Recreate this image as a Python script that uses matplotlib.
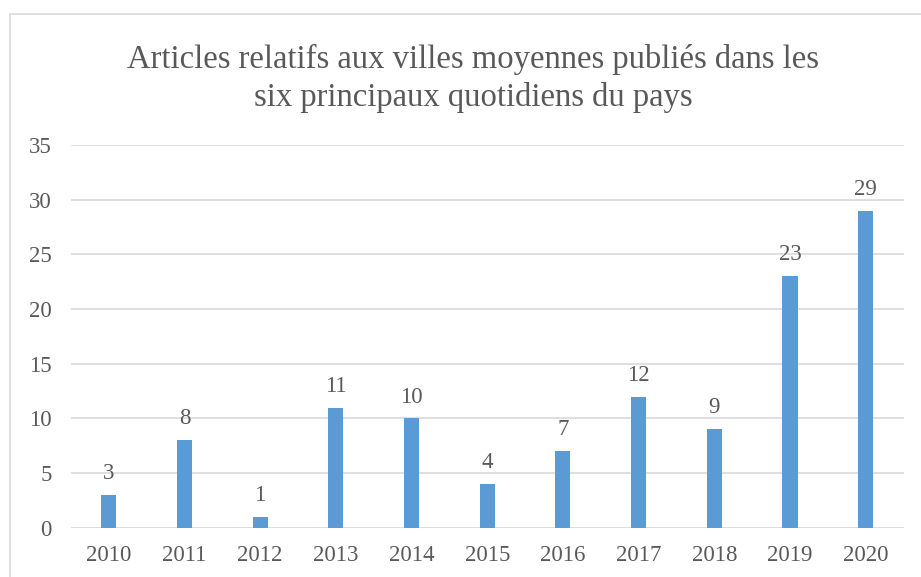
import matplotlib
matplotlib.use("Agg")
from matplotlib import pyplot as plt
from matplotlib.patches import Rectangle

years = ["2010", "2011", "2012", "2013", "2014", "2015", "2016", "2017", "2018", "2019", "2020"]
articles = [3, 8, 1, 11, 10, 4, 7, 12, 9, 23, 29]
yticks = [0, 5, 10, 15, 20, 25, 30, 35]

plt.rcParams['font.family'] = ['Liberation Serif', 'DejaVu Serif']
txt = "#595959"

fig = plt.figure(figsize=(9.21, 5.77), dpi=100)
ax = fig.add_axes([0.077, 0.085, 0.904, 0.664])

x = list(range(len(years)))
bars = ax.bar(x, articles, width=0.2, color="#5B9BD5", zorder=3)
for xi, v in zip(x, articles):
    ax.text(xi, v + 1.0, str(v), ha="center", va="bottom", fontsize=16.5, color=txt)

ax.set_xlim(-0.5, len(years) - 0.5)
ax.set_ylim(0, 35)
ax.set_yticks(yticks)
ax.set_xticks(x)
ax.set_xticklabels(years)
ax.tick_params(axis="both", length=0, labelsize=16.5, labelcolor=txt)
ax.tick_params(axis="y", pad=14)
ax.tick_params(axis="x", pad=12)
ax.grid(axis="y", color="#D9D9D9", linewidth=1.2, zorder=0)
for s in ax.spines.values():
    s.set_visible(False)

fig.text(0.5136, 0.864, "Articles relatifs aux villes moyennes publiés dans les\nsix principaux quotidiens du pays",
         ha="center", va="center", fontsize=23.5, color=txt, linespacing=1.33)

fig.patches.append(Rectangle((10 / 921, -0.05), 1.2, 1 - 14 / 577 + 0.05, transform=fig.transFigure,
                             fill=False, edgecolor="#D9D9D9", linewidth=1.2))

fig.savefig("out.png", dpi=100)
